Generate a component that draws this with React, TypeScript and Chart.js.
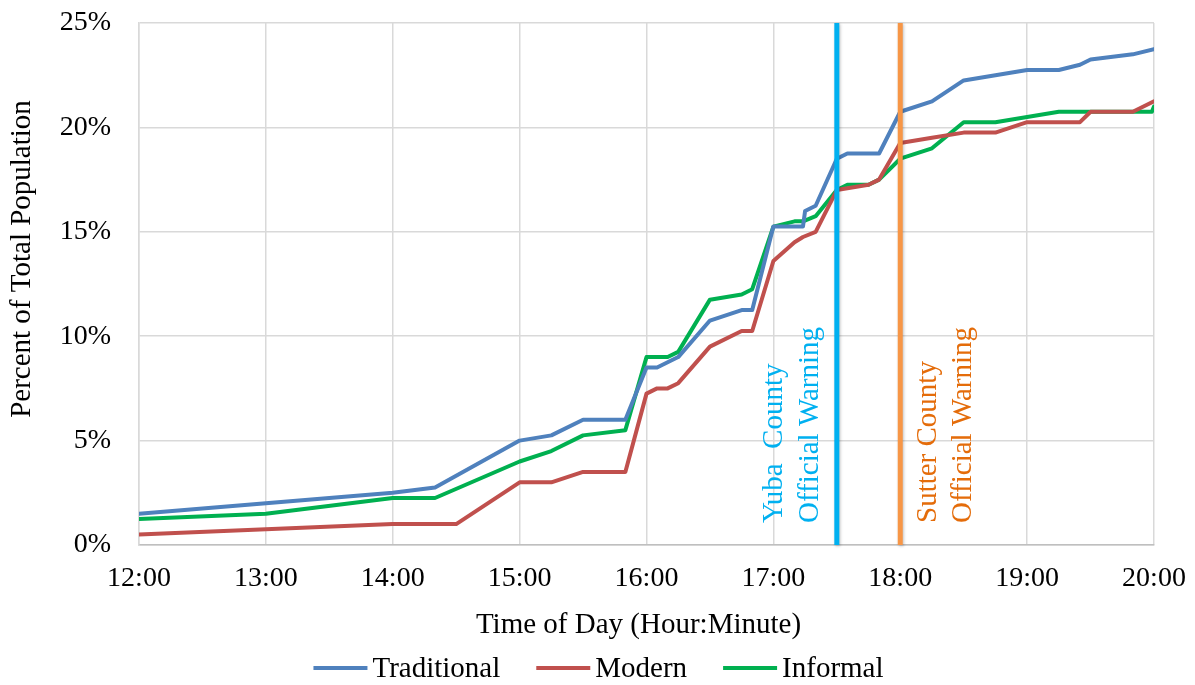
import { useEffect, useRef } from "react";
import { Chart, registerables } from "chart.js";

Chart.register(...registerables);

// Cumulative share of each group that had evacuated, by time of day.
const traditionalTimes = [
  "12:00", "13:00", "14:00", "14:20", "15:00", "15:15", "15:30", "15:50", "16:00", "16:05",
  "16:15", "16:30", "16:45", "16:50", "17:00", "17:14", "17:15", "17:20", "17:30", "17:35",
  "17:50", "18:00", "18:15", "18:30", "18:45", "19:00", "19:15", "19:25", "19:30", "19:50", "20:00",
];
const traditionalValues = [
  1.5, 2.0, 2.5, 2.75, 5.0, 5.25, 6.0, 6.0, 8.5, 8.5,
  9.0, 10.75, 11.25, 11.25, 15.25, 15.25, 16.0, 16.25, 18.5, 18.75,
  18.75, 20.75, 21.25, 22.25, 22.5, 22.75, 22.75, 23.0, 23.25, 23.5, 23.75,
];

const modernTimes = [
  "12:00", "13:00", "14:00", "14:30", "15:00", "15:15", "15:30", "15:50", "16:00", "16:05",
  "16:10", "16:15", "16:30", "16:45", "16:50", "17:00", "17:10", "17:14", "17:20", "17:30",
  "17:45", "17:50", "18:00", "18:15", "18:30", "18:45", "19:00", "19:25", "19:30", "19:50", "20:00",
];
const modernValues = [
  0.5, 0.75, 1.0, 1.0, 3.0, 3.0, 3.5, 3.5, 7.25, 7.5,
  7.5, 7.75, 9.5, 10.25, 10.25, 13.6, 14.5, 14.75, 15.0, 17.0,
  17.25, 17.5, 19.25, 19.5, 19.75, 19.75, 20.25, 20.25, 20.75, 20.75, 21.25,
];

const informalTimes = [
  "12:00", "13:00", "14:00", "14:20", "15:00", "15:15", "15:30", "15:50", "16:00", "16:10",
  "16:15", "16:30", "16:45", "16:50", "17:00", "17:10", "17:14", "17:20", "17:30", "17:35",
  "17:45", "17:50", "18:00", "18:15", "18:30", "18:45", "19:00", "19:15", "19:59", "20:00",
];
const informalValues = [
  1.25, 1.5, 2.25, 2.25, 4.0, 4.5, 5.25, 5.5, 9.0, 9.0,
  9.25, 11.75, 12.0, 12.25, 15.25, 15.5, 15.5, 15.75, 17.0, 17.25,
  17.25, 17.5, 18.5, 19.0, 20.25, 20.25, 20.5, 20.75, 20.75, 21.0,
];

const seriesNames = ["Traditional", "Modern", "Informal"];
const seriesColors = ["#4F81BD", "#C0504D", "#00B050"];

const hourLabels = ["12:00", "13:00", "14:00", "15:00", "16:00", "17:00", "18:00", "19:00", "20:00"];
const percentTicks = [0, 5, 10, 15, 20, 25];

// Official evacuation warnings
const warningTimes = ["17:30", "18:00"];
const warningLabels = [
  ["Yuba  County", "Official Warning"],
  ["Sutter County", "Official Warning"],
];
const warningLineColors = ["#00B0F0", "#F79646"];
const warningTextColors = ["#00B0F0", "#E46C0A"];
const warningTextSide = [-1, 1];

const xTitle = "Time of Day (Hour:Minute)";
const yTitle = "Percent of Total Population";

const FONT = "'Liberation Serif', 'Times New Roman', serif";

const toMinutes = (t: string) => {
  const [h, m] = t.split(":").map(Number);
  return (h - 12) * 60 + m;
};

const toPoints = (times: string[], values: number[]) =>
  times.map((t, i) => ({ x: toMinutes(t), y: values[i] }));

const overlayPlugin = {
  id: "overlay",
  afterDatasetsDraw(chart: any) {
    const { ctx, chartArea, scales } = chart;
    warningTimes.forEach((t, i) => {
      const px = scales.x.getPixelForValue(toMinutes(t));
      ctx.save();
      ctx.shadowColor = "rgba(0,0,0,0.25)";
      ctx.shadowBlur = 3;
      ctx.shadowOffsetX = 1;
      ctx.shadowOffsetY = 1;
      ctx.strokeStyle = warningLineColors[i];
      ctx.lineWidth = 5;
      ctx.beginPath();
      ctx.moveTo(px, chartArea.top);
      ctx.lineTo(px, chartArea.bottom);
      ctx.stroke();
      ctx.restore();

      ctx.save();
      ctx.fillStyle = warningTextColors[i];
      ctx.font = `29px ${FONT}`;
      ctx.textAlign = "left";
      ctx.textBaseline = "middle";
      const first = warningTextSide[i] < 0 ? px - 62 : px + 28;
      warningLabels[i].forEach((line, j) => {
        ctx.save();
        ctx.translate(first + j * 35.5, chartArea.bottom - 22);
        ctx.rotate(-Math.PI / 2);
        ctx.fillText(line, 0, 0);
        ctx.restore();
      });
      ctx.restore();
    });
  },
  afterDraw(chart: any) {
    const { ctx, chartArea, width } = chart;
    ctx.save();
    ctx.fillStyle = "#000";
    ctx.font = `29px ${FONT}`;
    ctx.textAlign = "center";
    ctx.textBaseline = "middle";

    // axis titles
    ctx.fillText(xTitle, (chartArea.left + chartArea.right) / 2 - 8, 625);
    ctx.save();
    ctx.translate(22, (chartArea.top + chartArea.bottom) / 2 - 25);
    ctx.rotate(-Math.PI / 2);
    ctx.fillText(yTitle, 0, 0);
    ctx.restore();

    // legend
    const sample = 54;
    const gap = 5;
    const itemGap = 36;
    const widths = seriesNames.map((n) => sample + gap + ctx.measureText(n).width);
    const total = widths.reduce((a, b) => a + b, 0) + itemGap * (widths.length - 1);
    let x = width / 2 + 1 - total / 2;
    const y = 668;
    ctx.textAlign = "left";
    seriesNames.forEach((n, i) => {
      ctx.strokeStyle = seriesColors[i];
      ctx.lineWidth = 4;
      ctx.beginPath();
      ctx.moveTo(x, y);
      ctx.lineTo(x + sample, y);
      ctx.stroke();
      ctx.fillText(n, x + sample + gap, y + 1);
      x += widths[i] + itemGap;
    });
    ctx.restore();
  },
};

export default function App() {
  const canvasRef = useRef<HTMLCanvasElement | null>(null);

  useEffect(() => {
    const canvas = canvasRef.current;
    if (!canvas) return;
    const seriesData = [
      toPoints(traditionalTimes, traditionalValues),
      toPoints(modernTimes, modernValues),
      toPoints(informalTimes, informalValues),
    ];
    const chart = new Chart(canvas, {
      type: "line",
      data: {
        datasets: seriesNames.map((name, i) => ({
          label: name,
          data: seriesData[i],
          borderColor: seriesColors[i],
          backgroundColor: seriesColors[i],
          borderWidth: 4,
          borderJoinStyle: "round" as const,
          borderCapStyle: "round" as const,
          pointRadius: 0,
          tension: 0,
          fill: false,
        })),
      },
      options: {
        animation: false,
        responsive: false,
        devicePixelRatio: 1,
        layout: { padding: { top: 23, right: 41, bottom: 0, left: 0 } },
        plugins: {
          legend: { display: false },
          tooltip: { enabled: false },
        },
        scales: {
          x: {
            type: "linear",
            min: 0,
            max: (hourLabels.length - 1) * 60,
            afterBuildTicks: (scale: any) => {
              scale.ticks = hourLabels.map((_, i) => ({ value: i * 60 }));
            },
            afterFit: (scale: any) => {
              scale.height = 140;
              scale.paddingLeft = 0;
              scale.paddingRight = 0;
            },
            grid: { color: "#D9D9D9", lineWidth: 1.5, drawTicks: false },
            border: { color: "#BFBFBF", width: 1.5 },
            ticks: {
              padding: 20,
              color: "#000",
              font: { family: FONT, size: 28, lineHeight: 1 },
              maxRotation: 0,
              autoSkip: false,
              callback: (v: any) => hourLabels[Math.round(Number(v) / 60)] ?? "",
            },
          },
          y: {
            type: "linear",
            min: 0,
            max: 25,
            afterBuildTicks: (scale: any) => {
              scale.ticks = percentTicks.map((v) => ({ value: v }));
            },
            afterFit: (scale: any) => {
              scale.width = 139;
              scale.paddingTop = 0;
              scale.paddingBottom = 0;
            },
            grid: { color: "#D9D9D9", lineWidth: 1.5, drawTicks: false },
            border: { color: "#D9D9D9", width: 1.5 },
            ticks: {
              padding: 28,
              color: "#000",
              font: { family: FONT, size: 28, lineHeight: 1 },
              callback: (v: any) => `${v}%`,
            },
          },
        },
      },
      plugins: [overlayPlugin],
    });
    return () => chart.destroy();
  }, []);

  return (
    <div style={{ position: "fixed", left: 0, top: 0, width: 1195, height: 685, background: "#fff" }}>
      <canvas ref={canvasRef} width={1195} height={685} style={{ display: "block" }} />
    </div>
  );
}
